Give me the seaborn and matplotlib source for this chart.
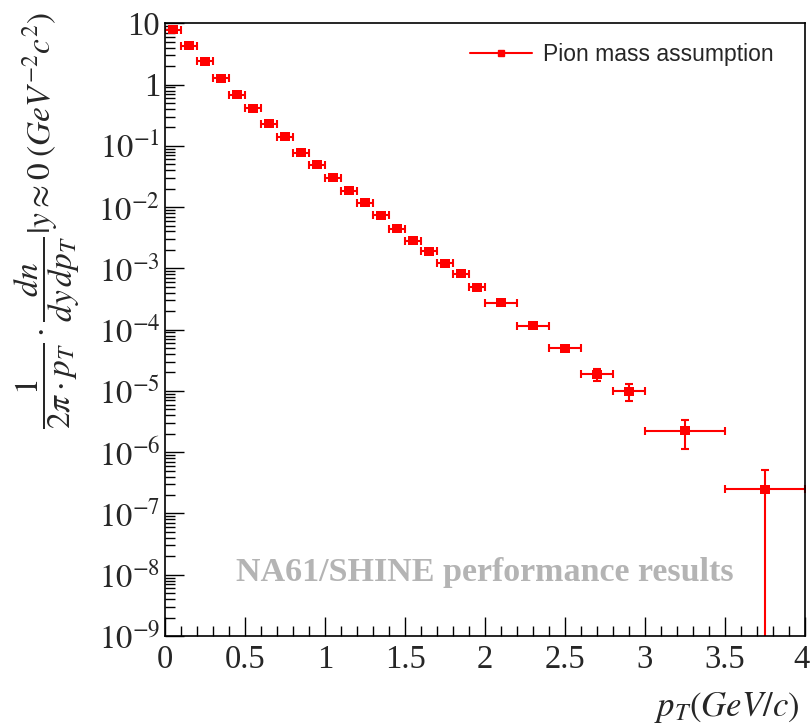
import numpy as np
import pandas as pd
import matplotlib
matplotlib.use("Agg")
import matplotlib.pyplot as plt
from matplotlib.lines import Line2D
from matplotlib.transforms import ScaledTranslation
from matplotlib.ticker import (FixedLocator, FixedFormatter, MultipleLocator,
                               LogLocator, NullFormatter)
import seaborn as sns

# Transverse-momentum bin centres and half-widths (GeV/c)
pt_centers = [0.05, 0.15, 0.25, 0.35, 0.45, 0.55, 0.65, 0.75, 0.85, 0.95,
              1.05, 1.15, 1.25, 1.35, 1.45, 1.55, 1.65, 1.75, 1.85, 1.95,
              2.1, 2.3, 2.5, 2.7, 2.9, 3.25, 3.75]
pt_halfwidth = [0.05] * 20 + [0.1, 0.1, 0.1, 0.1, 0.1, 0.25, 0.25]

# Invariant yield and its uncertainty
yield_values = [7.9, 4.3, 2.4, 1.28, 0.68, 0.41, 0.23, 0.14, 0.077, 0.049,
                0.030, 0.0186, 0.0118, 0.0074, 0.0044, 0.0028, 0.0019,
                0.00122, 0.00081, 0.00049, 2.73e-4, 1.15e-4, 5.0e-5,
                1.88e-5, 9.8e-6, 2.24e-6, 2.5e-7]
yield_errors = [0.15, 0.08, 0.05, 0.025, 0.014, 0.008, 0.005, 0.003, 0.0017,
                0.0011, 7e-4, 4.5e-4, 3e-4, 2e-4, 1.2e-4, 8e-5, 5.5e-5,
                3.8e-5, 2.6e-5, 1.7e-5, 1.2e-5, 9e-6, 4.5e-6, 4.4e-6,
                3.0e-6, 1.1e-6, 2.6e-7]

series_label = "Pion mass assumption"
watermark = "NA61/SHINE performance results"

xtick_values = [0, 0.5, 1, 1.5, 2, 2.5, 3, 3.5, 4]
xtick_labels = ["0", "0.5", "1", "1.5", "2", "2.5", "3", "3.5", "4"]
ytick_values = [1e-9, 1e-8, 1e-7, 1e-6, 1e-5, 1e-4, 1e-3, 1e-2, 1e-1, 1, 10]
ytick_labels = [r"$10^{-9}$", r"$10^{-8}$", r"$10^{-7}$", r"$10^{-6}$",
                r"$10^{-5}$", r"$10^{-4}$", r"$10^{-3}$", r"$10^{-2}$",
                r"$10^{-1}$", "1", "10"]

sns.set_style("white")
plt.rcParams.update({
    "font.family": ["Liberation Serif", "DejaVu Serif"],
    "mathtext.fontset": "stix",
    "axes.linewidth": 1.2,
    "axes.edgecolor": "black",
    "xtick.bottom": True,
    "ytick.left": True,
})

df = pd.DataFrame({"pt": pt_centers, "dpt": pt_halfwidth,
                   "y": yield_values, "dy": yield_errors})

fig = plt.figure(figsize=(8.1, 7.28), dpi=100)
ax = fig.add_axes([165 / 810, 92 / 728, 640 / 810, 612.7 / 728])

ax.errorbar(df["pt"], df["y"], xerr=df["dpt"], yerr=df["dy"], fmt="none",
            ecolor="#ff0000", elinewidth=1.5, capsize=3, capthick=1.5,
            zorder=2)
sns.scatterplot(data=df, x="pt", y="y", marker="s", color="#ff0000", s=42,
                edgecolor="none", linewidth=0, ax=ax, legend=False, zorder=3)

ax.set_yscale("log")
ax.set_xlim(0, 4)
ax.set_ylim(1e-9, 10)

ax.xaxis.set_major_locator(FixedLocator(xtick_values))
ax.xaxis.set_major_formatter(FixedFormatter(xtick_labels))
ax.xaxis.set_minor_locator(MultipleLocator(0.1))
ax.yaxis.set_major_locator(FixedLocator(ytick_values))
ax.yaxis.set_major_formatter(FixedFormatter(ytick_labels))
ax.yaxis.set_minor_locator(LogLocator(base=10, subs=np.arange(2, 10), numticks=30))
ax.yaxis.set_minor_formatter(NullFormatter())

ax.tick_params(which="both", direction="in", bottom=True, left=True,
               top=False, right=False, color="black", width=1.0)
ax.tick_params(which="major", length=14, labelsize=23.5)
ax.tick_params(axis="y", which="major", pad=3.5)
ax.tick_params(axis="x", which="major", pad=6)
ax.tick_params(which="minor", length=7)

# keep the last x label inside the canvas
fig.canvas.draw()
last = ax.get_xticklabels()[-1]
last.set_horizontalalignment("right")
last.set_transform(last.get_transform() + ScaledTranslation(3 / 72, 0, fig.dpi_scale_trans))

ax.set_xlabel("")
ax.set_ylabel(r"$\dfrac{1}{2\pi\cdot p_{T}}\cdot\dfrac{dn}{dy\,dp_{T}}|y\approx 0\;(GeV^{-2}c^{2})$",
              fontsize=24)
ax.yaxis.set_label_coords(-0.13, 0.679)

fig.text(800 / 810, (728 - 716) / 728, r"$p_{T}\left(GeV/c\right)$",
         ha="right", va="baseline", fontsize=25)

ax.text((236 - 165) / 640, (636 - 573) / 612.7, watermark,
        transform=ax.transAxes, ha="left", va="center", fontsize=24.5,
        fontweight="bold", color="#b4b4b4")

handle = Line2D([], [], color="#ff0000", lw=1.5, marker="s", markersize=5)
ax.legend(handles=[handle], labels=[series_label], loc="center left",
          bbox_to_anchor=(470 / 810, 1 - 55 / 728),
          bbox_transform=fig.transFigure, frameon=False, borderpad=0,
          borderaxespad=0, handlelength=2.7, handletextpad=0.5,
          prop={"family": "Liberation Sans", "size": 16.5})

fig.savefig("out.png", dpi=100)
